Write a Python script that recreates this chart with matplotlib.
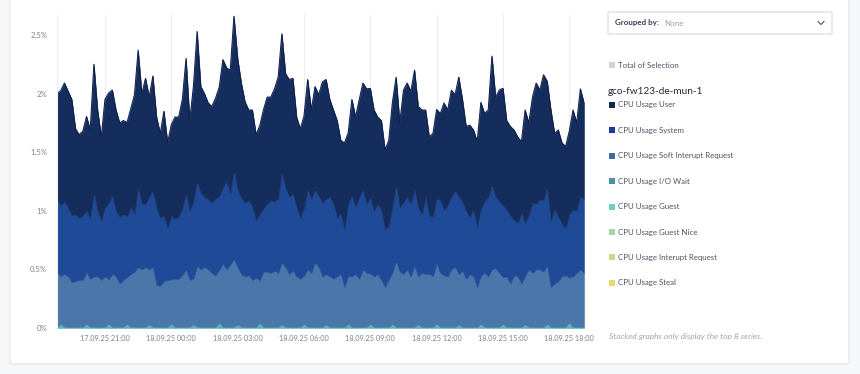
import pandas as pd
import matplotlib.pyplot as plt
import matplotlib.dates as mpl_dates
from matplotlib.patches import Rectangle, FancyBboxPatch
from matplotlib.lines import Line2D

plt.rcParams['font.family'] = ['Lato', 'DejaVu Sans']

# 10 minute samples, 17.09.25 18:50 -> 18.09.25 18:40 (values in %)
cpu_user = [
    0.90, 0.98, 1.01, 0.99, 0.99, 0.73, 0.71, 0.72, 0.80, 0.75, 1.09, 0.86,
    0.71, 0.92, 0.94, 0.90, 0.86, 0.80, 0.80, 0.80, 0.84, 1.01, 1.17, 0.94,
    1.07, 0.85, 0.98, 0.77, 0.72, 0.89, 0.73, 0.78, 0.87, 0.85, 0.93, 1.15,
    0.77, 0.98, 1.28, 0.91, 0.88, 0.82, 0.82, 0.86, 0.93, 1.09, 0.97, 1.05,
    1.31, 1.12, 0.98, 0.86, 0.77, 0.82, 0.73, 0.75, 0.84, 0.91, 0.88, 0.96,
    1.04, 1.18, 0.97, 1.00, 0.98, 0.77, 0.76, 0.78, 0.94, 0.76, 0.88, 0.86,
    1.03, 1.02, 0.83, 0.80, 0.83, 0.62, 0.74, 0.60, 0.82, 0.77, 0.83, 0.91,
    0.98, 0.93, 0.86, 0.74, 0.76, 0.68, 0.73, 0.89, 0.92, 0.72, 0.96, 0.97,
    0.96, 1.02, 0.86, 0.89, 0.74, 0.67, 0.71, 0.76, 0.74, 0.91, 0.81, 0.91,
    0.82, 1.02, 0.87, 0.72, 0.78, 0.68, 0.72, 0.91, 0.75, 0.74, 1.10, 0.85,
    0.95, 1.00, 0.76, 0.76, 0.77, 0.73, 0.61, 0.96, 0.79, 0.90, 1.03, 0.93,
    1.07, 0.90, 0.94, 0.65, 0.74, 0.69, 0.70, 0.71, 0.85, 0.75, 0.92, 0.82,
]
cpu_system = [
    0.63, 0.60, 0.62, 0.59, 0.57, 0.57, 0.53, 0.55, 0.53, 0.52, 0.72, 0.56,
    0.51, 0.59, 0.65, 0.67, 0.56, 0.57, 0.56, 0.52, 0.57, 0.50, 0.68, 0.56,
    0.54, 0.62, 0.65, 0.66, 0.58, 0.56, 0.44, 0.54, 0.51, 0.53, 0.57, 0.65,
    0.59, 0.66, 0.72, 0.65, 0.60, 0.60, 0.60, 0.65, 0.63, 0.65, 0.75, 0.61,
    0.76, 0.66, 0.65, 0.63, 0.64, 0.63, 0.49, 0.57, 0.54, 0.58, 0.62, 0.59,
    0.63, 0.77, 0.68, 0.66, 0.66, 0.59, 0.52, 0.58, 0.68, 0.63, 0.62, 0.61,
    0.63, 0.64, 0.68, 0.64, 0.50, 0.52, 0.49, 0.62, 0.69, 0.57, 0.70, 0.68,
    0.59, 0.65, 0.56, 0.60, 0.60, 0.49, 0.46, 0.56, 0.65, 0.55, 0.61, 0.62,
    0.62, 0.65, 0.59, 0.50, 0.66, 0.50, 0.51, 0.55, 0.62, 0.56, 0.61, 0.62,
    0.65, 0.66, 0.59, 0.58, 0.49, 0.57, 0.52, 0.57, 0.61, 0.68, 0.72, 0.61,
    0.61, 0.61, 0.57, 0.58, 0.47, 0.46, 0.60, 0.46, 0.46, 0.60, 0.56, 0.60,
    0.61, 0.67, 0.57, 0.63, 0.55, 0.45, 0.40, 0.54, 0.57, 0.53, 0.62, 0.63,
]
cpu_softirq = [
    0.46, 0.41, 0.45, 0.43, 0.38, 0.39, 0.40, 0.40, 0.44, 0.41, 0.43, 0.43,
    0.40, 0.43, 0.38, 0.45, 0.43, 0.37, 0.40, 0.40, 0.45, 0.47, 0.51, 0.49,
    0.51, 0.47, 0.51, 0.36, 0.35, 0.39, 0.40, 0.38, 0.41, 0.41, 0.44, 0.49,
    0.40, 0.39, 0.52, 0.49, 0.51, 0.49, 0.46, 0.44, 0.45, 0.54, 0.49, 0.53,
    0.58, 0.49, 0.45, 0.43, 0.44, 0.40, 0.42, 0.36, 0.47, 0.47, 0.46, 0.48,
    0.46, 0.53, 0.51, 0.45, 0.48, 0.43, 0.41, 0.41, 0.49, 0.46, 0.55, 0.51,
    0.43, 0.43, 0.43, 0.41, 0.43, 0.45, 0.34, 0.41, 0.43, 0.45, 0.41, 0.49,
    0.46, 0.43, 0.43, 0.45, 0.40, 0.34, 0.40, 0.44, 0.56, 0.47, 0.45, 0.49,
    0.43, 0.52, 0.41, 0.46, 0.45, 0.45, 0.43, 0.52, 0.46, 0.44, 0.43, 0.49,
    0.51, 0.43, 0.48, 0.41, 0.45, 0.43, 0.34, 0.41, 0.46, 0.43, 0.49, 0.50,
    0.46, 0.40, 0.43, 0.37, 0.44, 0.43, 0.37, 0.41, 0.49, 0.46, 0.49, 0.49,
    0.47, 0.50, 0.34, 0.37, 0.39, 0.43, 0.44, 0.38, 0.43, 0.46, 0.49, 0.46,
]
cpu_iowait = [
    0.01, 0.035, 0.01, 0.01, 0.01, 0.01, 0.01, 0.01, 0.035, 0.01, 0.01, 0.01,
    0.01, 0.01, 0.035, 0.01, 0.01, 0.01, 0.01, 0.035, 0.01, 0.01, 0.01, 0.01,
    0.01, 0.03, 0.01, 0.01, 0.01, 0.01, 0.01, 0.035, 0.01, 0.01, 0.01, 0.01,
    0.01, 0.03, 0.01, 0.01, 0.01, 0.01, 0.01, 0.01, 0.045, 0.01, 0.01, 0.01,
    0.01, 0.03, 0.01, 0.01, 0.01, 0.01, 0.01, 0.045, 0.01, 0.01, 0.01, 0.01,
    0.01, 0.03, 0.01, 0.01, 0.01, 0.01, 0.01, 0.035, 0.01, 0.01, 0.01, 0.01,
    0.01, 0.03, 0.01, 0.01, 0.01, 0.01, 0.01, 0.035, 0.01, 0.01, 0.01, 0.01,
    0.01, 0.035, 0.01, 0.01, 0.01, 0.01, 0.01, 0.035, 0.01, 0.01, 0.01, 0.01,
    0.01, 0.01, 0.03, 0.01, 0.01, 0.01, 0.01, 0.035, 0.01, 0.01, 0.01, 0.01,
    0.01, 0.03, 0.01, 0.01, 0.01, 0.01, 0.01, 0.035, 0.01, 0.01, 0.01, 0.01,
    0.01, 0.035, 0.01, 0.01, 0.01, 0.01, 0.01, 0.03, 0.01, 0.01, 0.01, 0.01,
    0.01, 0.035, 0.01, 0.01, 0.01, 0.01, 0.01, 0.05, 0.01, 0.01, 0.01, 0.01,
]

times = pd.date_range('2025-09-17 18:50', periods=len(cpu_user), freq='10min')

legend_names = ['CPU Usage User', 'CPU Usage System', 'CPU Usage Soft Interupt Request',
                'CPU Usage I/O Wait', 'CPU Usage Guest', 'CPU Usage Guest Nice',
                'CPU Usage Interupt Request', 'CPU Usage Steal']
legend_colors = ['#172554', '#1e3a9c', '#3b6ca3', '#4b8fa4', '#6fcfc2', '#a2d6a4',
                 '#c6d98c', '#ead96f']
y_ticks = [0, 0.5, 1, 1.5, 2, 2.5]
y_labels = ['0%', '0.5%', '1%', '1.5%', '2%', '2.5%']

W, H = 860, 374
fig = plt.figure(figsize=(W / 100, H / 100), dpi=100)
fig.patch.set_facecolor('#f6f7f9')

def fx(x):
    return x / W

def fy(y):
    return 1 - y / H

###card
card = FancyBboxPatch((fx(10), fy(364)), fx(839), fy(-10) - fy(364),
                      boxstyle='round,pad=0,rounding_size=0.004',
                      transform=fig.transFigure, facecolor='white',
                      edgecolor='#e2e5ea', linewidth=0.8, zorder=0)
fig.add_artist(card)

###stacked areas
ax = fig.add_axes([fx(57), fy(328), fx(527), fy(15) - fy(328)])
ax.set_facecolor('none')
ax.stackplot(times, cpu_iowait, cpu_softirq, cpu_system, cpu_user,
             colors=['#5ab5b1', '#4a76a9', '#1f4a98', '#142d5d'],
             edgecolor='face', linewidth=0.4)
top = [a + b + c + d for a, b, c, d in zip(cpu_iowait, cpu_softirq, cpu_system, cpu_user)]
ax.plot(times, top, color='#0d1f48', linewidth=0.7)

ax.set_xlim(times[0], times[-1])
ax.set_ylim(0, 2.67)
ax.set_yticks(y_ticks)
ax.set_yticklabels(y_labels)
ax.xaxis.set_major_locator(mpl_dates.HourLocator(byhour=[0, 3, 6, 9, 12, 15, 18, 21]))
ax.xaxis.set_major_formatter(mpl_dates.DateFormatter('%d.%m.%y %H:%M'))
ax.tick_params(axis='both', length=0, colors='#7b8290')
ax.tick_params(axis='x', pad=5, labelsize=5.3)
ax.tick_params(axis='y', pad=7, labelsize=5.6)
ax.grid(axis='x', color='#eceef2', linewidth=0.8)
ax.set_axisbelow(True)
for s in ['top', 'right', 'bottom']:
    ax.spines[s].set_visible(False)
ax.spines['left'].set_color('#eceef2')

###dropdown
box = FancyBboxPatch((fx(608), fy(34)), fx(224), fy(12) - fy(34),
                     boxstyle='round,pad=0,rounding_size=0.002',
                     transform=fig.transFigure, facecolor='white',
                     edgecolor='#d6d9de', linewidth=0.8)
fig.add_artist(box)
fig.text(fx(615), fy(23), 'Grouped by:', fontsize=5.8, fontweight='bold',
         color='#374151', va='center')
fig.text(fx(664), fy(23), 'None', fontsize=5.8, color='#9ca3af', va='center')
fig.add_artist(Line2D([fx(818), fx(821), fx(824)], [fy(21.5), fy(24.5), fy(21.5)],
                      transform=fig.transFigure, color='#4b5563', linewidth=0.8))

###legend
def square(x, y, color):
    fig.add_artist(Rectangle((fx(x), fy(y + 3)), fx(6), fy(y - 3) - fy(y + 3),
                             transform=fig.transFigure, facecolor=color,
                             edgecolor='none'))

square(609, 65, '#d1d3d8')
fig.text(fx(618), fy(65), 'Total of Selection', fontsize=5.7, color='#4b5563', va='center')
fig.text(fx(608), fy(91), 'gco-fw123-de-mun-1', fontsize=7.2, color='#1f2937', va='center')
for i, (name, col) in enumerate(zip(legend_names, legend_colors)):
    y = 105 + i * 25.4
    square(609, y, col)
    fig.text(fx(618), fy(y), name, fontsize=5.7, color='#4b5563', va='center')

fig.text(fx(609), fy(337), 'Stacked graphs only display the top 8 series.',
         fontsize=6, style='italic', color='#a0a6b0', va='center')

fig.savefig('out.png', dpi=100, facecolor=fig.get_facecolor())
